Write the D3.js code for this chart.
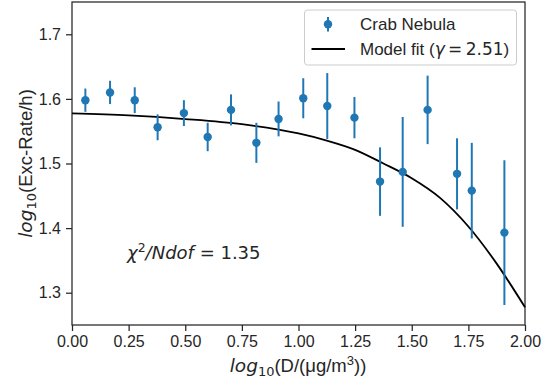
<!DOCTYPE html>
<html>
<head>
<meta charset="utf-8">
<script src="https://cdn.jsdelivr.net/npm/d3@7"></script>
<style>
  html, body { margin: 0; padding: 0; background: #fff; }
  svg { display: block; }
</style>
</head>
<body>
<svg id="chart" width="549" height="385"></svg>
<script>
// ---- data ----
const xValues = [0.059, 0.168, 0.277, 0.378, 0.494, 0.599, 0.702, 0.814, 0.912, 1.021, 1.127, 1.247, 1.360, 1.460, 1.570, 1.700, 1.765, 1.909];
const yValues = [1.598, 1.610, 1.598, 1.556, 1.578, 1.541, 1.583, 1.532, 1.569, 1.601, 1.589, 1.571, 1.472, 1.487, 1.583, 1.484, 1.458, 1.393];
const yErrors = [0.018, 0.018, 0.020, 0.020, 0.020, 0.022, 0.024, 0.031, 0.027, 0.031, 0.051, 0.032, 0.053, 0.085, 0.053, 0.055, 0.074, 0.112];
const fitX = [0.0, 0.25, 0.5, 0.75, 1.0, 1.125, 1.25, 1.375, 1.5, 1.625, 1.75, 1.875, 2.0];
const fitY = [1.5777, 1.5745, 1.5688, 1.5608, 1.5465, 1.5355, 1.5212, 1.5000, 1.4772, 1.4468, 1.4025, 1.3450, 1.2775];
const xTicks = [0, 0.25, 0.5, 0.75, 1.0, 1.25, 1.5, 1.75, 2.0];
const yTicks = [1.3, 1.4, 1.5, 1.6, 1.7];

// ---- layout ----
const svg = d3.select("#chart");
const L = 72, R = 525, T = 2, B = 325;
const x = d3.scaleLinear().domain([0, 2]).range([L, R]);
const y = d3.scaleLinear().domain([1.25, 1.75]).range([B, T]);
const C0 = "#1f77b4";
const ink = "#262626";
const sans = "'Liberation Sans', Arial, sans-serif";
const math = "'DejaVu Sans', sans-serif";

// axes
const xAxis = svg.append("g").attr("transform", `translate(0,${B})`)
  .call(d3.axisBottom(x).tickValues(xTicks).tickFormat(d3.format(".2f")).tickSize(6).tickPadding(5));
const yAxis = svg.append("g").attr("transform", `translate(${L},0)`)
  .call(d3.axisLeft(y).tickValues(yTicks).tickFormat(d3.format(".1f")).tickSize(6).tickPadding(5));
[xAxis, yAxis].forEach(g => {
  g.select(".domain").remove();
  g.selectAll(".tick line").attr("stroke", ink).attr("stroke-width", 1.25);
  g.selectAll(".tick text").attr("fill", ink).style("font-family", sans).style("font-size", "16px");
});

// frame
svg.append("rect").attr("x", L).attr("y", T).attr("width", R - L).attr("height", B - T)
  .attr("fill", "none").attr("stroke", ink).attr("stroke-width", 1.25);

// fit curve
const line = d3.line().x((d, i) => x(fitX[i])).y(d => y(d)).curve(d3.curveMonotoneX);
svg.append("path").attr("d", line(fitY)).attr("fill", "none").attr("stroke", "#000").attr("stroke-width", 1.8);

// error bars + points
const pts = svg.append("g");
xValues.forEach((xv, i) => {
  pts.append("line")
    .attr("x1", x(xv)).attr("x2", x(xv))
    .attr("y1", y(yValues[i] - yErrors[i])).attr("y2", y(yValues[i] + yErrors[i]))
    .attr("stroke", C0).attr("stroke-width", 2);
  pts.append("circle").attr("cx", x(xv)).attr("cy", y(yValues[i])).attr("r", 4.2).attr("fill", C0);
});

// chi2 annotation
const chi = svg.append("text").attr("x", 127).attr("y", 259)
  .style("font-family", math).style("font-size", "18px").attr("fill", ink);
chi.append("tspan").style("font-style", "italic").text("χ");
chi.append("tspan").attr("dy", -7.5).style("font-size", "12.5px").text("2");
chi.append("tspan").attr("dy", 7.5).style("font-style", "italic").text("/Ndof");
chi.append("tspan").text(" = 1.35");

// legend
const lg = svg.append("g");
lg.append("rect").attr("x", 304.5).attr("y", 10).attr("width", 212).attr("height", 55).attr("rx", 3)
  .attr("fill", "#fff").attr("fill-opacity", 0.8).attr("stroke", "#cccccc").attr("stroke-width", 1);
lg.append("line").attr("x1", 328).attr("x2", 328).attr("y1", 17).attr("y2", 31.5).attr("stroke", C0).attr("stroke-width", 2);
lg.append("circle").attr("cx", 328).attr("cy", 24.2).attr("r", 4.2).attr("fill", C0);
lg.append("line").attr("x1", 311.5).attr("x2", 345).attr("y1", 49).attr("y2", 49).attr("stroke", "#000").attr("stroke-width", 1.8);
lg.append("text").attr("x", 360).attr("y", 30).style("font-family", sans).style("font-size", "17px").attr("fill", ink).text("Crab Nebula");
const mt = lg.append("text").attr("x", 360).attr("y", 55).style("font-family", sans).style("font-size", "17px").attr("fill", ink);
mt.append("tspan").text("Model fit (");
mt.append("tspan").style("font-family", math).style("font-style", "italic").text("γ");
mt.append("tspan").style("font-family", math).text("\u2009=\u20092.51");
mt.append("tspan").text(")");

// x label
const xl = svg.append("text").attr("x", 298).attr("y", 372).attr("text-anchor", "middle")
  .style("font-family", sans).style("font-size", "18.5px").attr("fill", ink);
xl.append("tspan").style("font-family", math).style("font-style", "italic").text("log");
xl.append("tspan").attr("dy", 4).style("font-family", math).style("font-size", "13px").text("10");
xl.append("tspan").attr("dy", -4).text("(D/(μg/m");
xl.append("tspan").attr("dy", -7.5).style("font-size", "13px").text("3");
xl.append("tspan").attr("dy", 7.5).text("))");

// y label
const yl = svg.append("text").attr("transform", "translate(32,163.5) rotate(-90)").attr("text-anchor", "middle")
  .style("font-family", sans).style("font-size", "18.5px").attr("fill", ink);
yl.append("tspan").style("font-family", math).style("font-style", "italic").text("log");
yl.append("tspan").attr("dy", 4).style("font-family", math).style("font-size", "13px").text("10");
yl.append("tspan").attr("dy", -4).text("(Exc-Rate/h)");
</script>
</body>
</html>
